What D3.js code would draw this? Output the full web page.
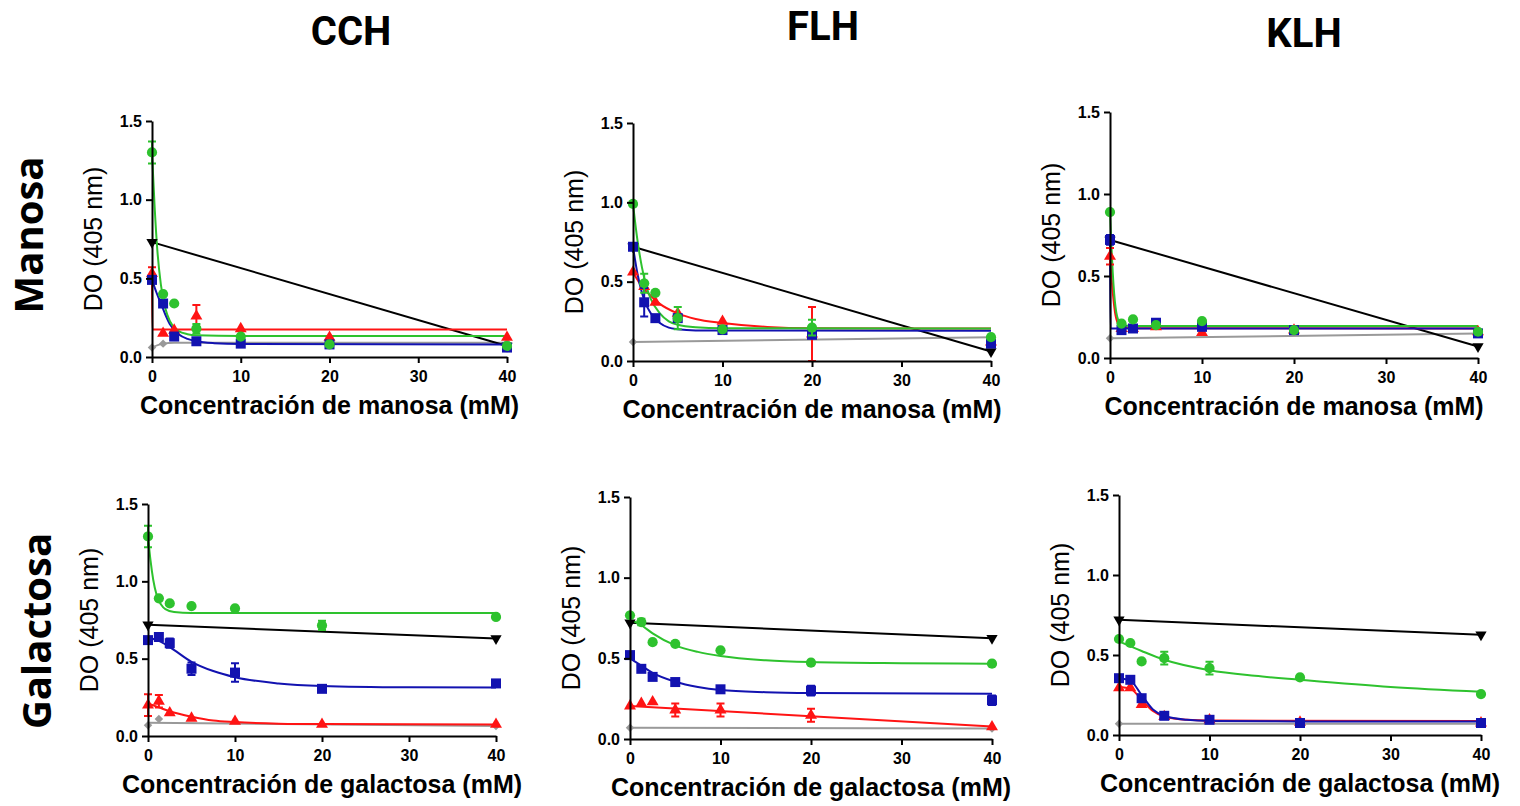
<!DOCTYPE html>
<html>
<head>
<meta charset="utf-8">
<script src="https://cdn.jsdelivr.net/npm/d3@7/dist/d3.min.js"></script>
<style>
	body { margin: 0; background: #fff; }
</style>
</head>
<body>
<svg id="chart" width="1520" height="806"></svg>
<script>
// shared values
var conc = [0, 1.25, 2.5, 5, 10, 20, 40];
var xTicks = [0, 10, 20, 30, 40];
var yTicks = [0, 0.5, 1.0, 1.5];
var lectins = ["CCH", "FLH", "KLH"];
var sugars = ["Manosa", "Galactosa"];
var xTitles = ["Concentración de manosa (mM)", "Concentración de galactosa (mM)"];
var yTitle = "DO (405 nm)";

// rows in every panel: green circle, blue square, red triangle, black triangle, gray diamond
// columns follow conc, null = no point
var cchManY = [
	[1.30, 0.40, 0.34, 0.18, 0.13, 0.08, 0.07],
	[0.49, 0.34, 0.13, 0.10, 0.085, 0.08, 0.06],
	[0.53, 0.15, 0.17, 0.26, 0.18, 0.125, 0.125],
	[0.73, null, null, null, null, null, 0.07],
	[0.06, 0.085, null, null, null, null, 0.09]
];
var cchManErr = [
	[0.07, 0, 0, 0.03, 0, 0, 0],
	[0, 0.02, 0, 0, 0, 0, 0],
	[0.04, 0, 0, 0.07, 0, 0, 0],
	[0, 0, 0, 0, 0, 0, 0],
	[0, 0, 0, 0, 0, 0, 0]
];
var cchManFit = [
	[[0, 1.30], [0.3, 0.95], [0.6, 0.68], [1, 0.46], [1.5, 0.31], [2, 0.23], [3, 0.165], [4, 0.145], [5, 0.138], [10, 0.133], [40, 0.133]],
	[[0, 0.49], [0.5, 0.41], [1, 0.34], [1.5, 0.27], [2, 0.21], [3, 0.145], [4, 0.115], [5, 0.10], [7, 0.088], [10, 0.083], [40, 0.08]],
	[[0, 0.53], [0.04, 0.175], [40, 0.175]],
	[[0, 0.73], [40, 0.07]],
	[[0, 0.06], [1.25, 0.085], [2.5, 0.09], [40, 0.09]]
];

var flhManY = [
	[0.99, 0.49, 0.43, 0.27, 0.20, 0.21, 0.15],
	[0.72, 0.37, 0.27, 0.27, 0.195, 0.165, 0.11],
	[0.56, 0.47, 0.37, 0.30, 0.25, 0.17, 0.12],
	[0.72, null, null, null, null, null, 0.06],
	[0.12, null, null, null, null, null, 0.15]
];
var flhManErr = [
	[0, 0.06, 0, 0.07, 0, 0.05, 0],
	[0, 0.09, 0, 0, 0, 0, 0],
	[0, 0, 0, 0, 0, 0.17, 0],
	[0, 0, 0, 0, 0, 0, 0],
	[0, 0, 0, 0, 0, 0, 0]
];
var flhManFit = [
	[[0, 0.99], [0.5, 0.76], [1, 0.59], [1.5, 0.47], [2, 0.39], [3, 0.30], [4, 0.25], [5, 0.228], [7, 0.212], [10, 0.206], [40, 0.205]],
	[[0, 0.72], [0.5, 0.55], [1, 0.43], [1.5, 0.35], [2, 0.30], [3, 0.24], [4, 0.21], [5, 0.20], [7, 0.193], [40, 0.19]],
	[[0, 0.56], [1, 0.47], [2, 0.41], [3, 0.36], [5, 0.30], [7, 0.265], [10, 0.24], [15, 0.215], [20, 0.207], [40, 0.205]],
	[[0, 0.72], [40, 0.06]],
	[[0, 0.12], [40, 0.15]]
];

var klhManY = [
	[0.89, 0.21, 0.235, 0.20, 0.225, 0.17, 0.16],
	[0.72, 0.17, 0.18, 0.215, 0.19, 0.17, 0.15],
	[0.62, 0.18, 0.18, 0.19, 0.155, 0.17, 0.16],
	[0.72, null, null, null, null, null, 0.07],
	[0.12, null, null, null, null, null, 0.15]
];
var klhManErr = [
	[0, 0, 0, 0, 0, 0, 0],
	[0.03, 0, 0, 0, 0, 0, 0],
	[0.05, 0, 0, 0, 0, 0, 0],
	[0, 0, 0, 0, 0, 0, 0],
	[0, 0, 0, 0, 0, 0, 0]
];
var klhManFit = [
	[[0, 0.89], [0.3, 0.52], [0.6, 0.31], [1, 0.22], [1.5, 0.20], [2.5, 0.195], [40, 0.195]],
	[[0, 0.72], [0.05, 0.18], [40, 0.18]],
	[[0, 0.62], [0.3, 0.40], [0.6, 0.26], [1, 0.20], [1.5, 0.186], [2.5, 0.182], [40, 0.18]],
	[[0, 0.72], [40, 0.07]],
	[[0, 0.12], [40, 0.15]]
];

var cchGalY = [
	[1.29, 0.89, 0.857, 0.84, 0.825, 0.715, 0.77],
	[0.62, 0.64, 0.60, 0.435, 0.41, 0.305, 0.34],
	[0.20, 0.225, 0.15, 0.115, 0.095, 0.075, 0.075],
	[0.72, null, null, null, null, null, 0.63],
	[0.07, 0.11, null, null, null, null, 0.065]
];
var cchGalErr = [
	[0.07, 0, 0, 0, 0, 0.03, 0],
	[0, 0, 0.03, 0.04, 0.06, 0, 0],
	[0.07, 0.04, 0, 0, 0, 0, 0],
	[0, 0, 0, 0, 0, 0, 0],
	[0, 0, 0, 0, 0, 0, 0]
];
var cchGalFit = [
	[[0, 1.29], [0.3, 1.13], [0.6, 1.01], [1, 0.91], [1.5, 0.85], [2, 0.82], [3, 0.802], [5, 0.796], [40, 0.795]],
	[[0, 0.635], [1.25, 0.615], [2.5, 0.575], [5, 0.48], [7.5, 0.42], [10, 0.38], [15, 0.34], [20, 0.324], [30, 0.315], [40, 0.313]],
	[[0, 0.21], [1.25, 0.185], [2.5, 0.16], [5, 0.125], [7.5, 0.10], [10, 0.09], [15, 0.08], [20, 0.077], [40, 0.075]],
	[[0, 0.72], [40, 0.63]],
	[[0, 0.085], [40, 0.065]]
];

var flhGalY = [
	[0.767, 0.725, 0.60, 0.59, 0.55, 0.473, 0.467],
	[0.52, 0.435, 0.385, 0.353, 0.308, 0.30, 0.24],
	[0.205, 0.22, 0.23, 0.18, 0.18, 0.147, 0.075],
	[0.72, null, null, null, null, null, 0.625],
	[0.07, null, null, null, null, null, 0.065]
];
var flhGalErr = [
	[0, 0.02, 0, 0, 0, 0, 0],
	[0, 0, 0, 0, 0.02, 0.03, 0.03],
	[0, 0, 0, 0.04, 0.04, 0.04, 0],
	[0, 0, 0, 0, 0, 0, 0],
	[0, 0, 0, 0, 0, 0, 0]
];
var flhGalFit = [
	[[0, 0.74], [1.25, 0.705], [2.5, 0.655], [5, 0.58], [7.5, 0.54], [10, 0.515], [15, 0.488], [20, 0.477], [30, 0.47], [40, 0.467]],
	[[0, 0.50], [1.25, 0.455], [2.5, 0.41], [5, 0.355], [7.5, 0.322], [10, 0.303], [15, 0.29], [20, 0.285], [40, 0.28]],
	[[0, 0.205], [40, 0.078]],
	[[0, 0.72], [40, 0.625]],
	[[0, 0.07], [40, 0.065]]
];

var klhGalY = [
	[0.60, 0.575, 0.46, 0.48, 0.418, 0.36, 0.256],
	[0.355, 0.345, 0.23, 0.12, 0.095, 0.075, 0.075],
	[0.295, 0.295, 0.19, 0.115, 0.095, 0.08, 0.075],
	[0.72, null, null, null, null, null, 0.626],
	[0.07, null, null, null, null, null, 0.07]
];
var klhGalErr = [
	[0, 0, 0, 0.04, 0.04, 0, 0],
	[0, 0.02, 0.02, 0, 0, 0, 0],
	[0, 0, 0, 0, 0, 0, 0],
	[0, 0, 0, 0, 0, 0, 0],
	[0, 0, 0, 0, 0, 0, 0]
];
var klhGalFit = [
	[[0, 0.585], [2.5, 0.525], [5, 0.47], [10, 0.405], [15, 0.37], [20, 0.345], [30, 0.30], [40, 0.27]],
	[[0, 0.355], [1.25, 0.34], [2.5, 0.25], [3.75, 0.16], [5, 0.12], [7.5, 0.095], [10, 0.088], [20, 0.085], [40, 0.085]],
	[[0, 0.30], [1.25, 0.29], [2.5, 0.22], [3.75, 0.15], [5, 0.115], [7.5, 0.095], [10, 0.09], [40, 0.088]],
	[[0, 0.72], [40, 0.626]],
	[[0, 0.07], [40, 0.07]]
];

var panelY = [cchManY, flhManY, klhManY, cchGalY, flhGalY, klhGalY];
var panelErr = [cchManErr, flhManErr, klhManErr, cchGalErr, flhGalErr, klhGalErr];
var panelFit = [cchManFit, flhManFit, klhManFit, cchGalFit, flhGalFit, klhGalFit];

// plot boxes (pixels)
var boxes = [
	{x0: 152, x1: 507, y0: 357, y1: 121},
	{x0: 633, x1: 991, y0: 361, y1: 123},
	{x0: 1110, x1: 1478, y0: 358, y1: 112},
	{x0: 148, x1: 496, y0: 736, y1: 504},
	{x0: 630, x1: 992, y0: 739, y1: 497},
	{x0: 1119, x1: 1481, y0: 735, y1: 495}
];

var styles = [
	{color: '#2ec22e', symbol: d3.symbolCircle, size: 82, rot: 0},
	{color: '#1212b0', symbol: d3.symbolSquare, size: 100, rot: 0},
	{color: '#ff1414', symbol: d3.symbolTriangle, size: 62, rot: 0},
	{color: '#000000', symbol: d3.symbolTriangle, size: 55, rot: 180},
	{color: '#999999', symbol: d3.symbolSquare, size: 36, rot: 45}
];
var drawOrder = [4, 3, 2, 1, 0];

var svg = d3.select('#chart');

// column titles
var titlePos = [[351, 45], [823, 40], [1304, 47]];
lectins.forEach(function(t, i){
	svg.append('text')
		.attr('x', titlePos[i][0])
		.attr('y', titlePos[i][1])
		.attr('text-anchor', 'middle')
		.style('font-family', 'Roboto, sans-serif')
		.style('font-weight', 'bold')
		.style('font-size', '40px')
		.text(t);
});

// row titles
var rowPos = [[43, 235], [51, 631]];
sugars.forEach(function(t, i){
	svg.append('text')
		.attr('transform', 'translate(' + rowPos[i][0] + ',' + rowPos[i][1] + ') rotate(-90)')
		.attr('text-anchor', 'middle')
		.style('font-family', '"Open Sans", sans-serif')
		.style('font-weight', 'bold')
		.style('font-size', '40px')
		.text(t);
});

var drawPanel = function(i){
	var b = boxes[i];
	var ys = panelY[i], errs = panelErr[i], fits = panelFit[i];

	var xScale = d3.scaleLinear().domain([0, 40]).range([b.x0, b.x1]);
	var yScale = d3.scaleLinear().domain([0, 1.5]).range([b.y0, b.y1]);

	var g = svg.append('g');

	var line = d3.line()
				.x(d => xScale(d[0]))
				.y(d => yScale(d[1]))
				.curve(d3.curveMonotoneX);

	drawOrder.forEach(function(s){
		g.append('path')
			.attr('d', line(fits[s]))
			.attr('fill', 'none')
			.attr('stroke', styles[s].color)
			.attr('stroke-width', 2);
	});

	drawOrder.forEach(function(s){
		var st = styles[s];
		var pts = conc.map((c, k) => ({x: c, y: ys[s][k], e: errs[s][k]}))
					.filter(d => d.y !== null);

		pts.filter(d => d.e > 0).forEach(function(d){
			var px = xScale(d.x), top = yScale(d.y + d.e), bot = yScale(d.y - d.e);
			g.append('path')
				.attr('d', 'M' + px + ',' + top + 'V' + bot +
					'M' + (px - 4) + ',' + top + 'H' + (px + 4) +
					'M' + (px - 4) + ',' + bot + 'H' + (px + 4))
				.attr('stroke', st.color)
				.attr('stroke-width', 2)
				.attr('fill', 'none');
		});

		g.selectAll('.pt' + s)
			.data(pts)
			.enter()
			.append('path')
			.attr('transform', d => 'translate(' + xScale(d.x) + ',' + yScale(d.y) + ') rotate(' + st.rot + ')')
			.attr('d', d3.symbol().type(st.symbol).size(st.size))
			.attr('fill', st.color);
	});

	var xAxis = d3.axisBottom(xScale).tickValues(xTicks).tickSize(6).tickSizeOuter(0).tickPadding(8);
	var yAxis = d3.axisLeft(yScale).tickValues(yTicks).tickSize(6).tickSizeOuter(0).tickPadding(4).tickFormat(d3.format('.1f'));

	var ax = g.append('g')
		.attr('transform', 'translate(0,' + b.y0 + ')')
		.call(xAxis);
	var ay = g.append('g')
		.attr('transform', 'translate(' + b.x0 + ',0)')
		.call(yAxis);

	[ax, ay].forEach(function(a){
		a.selectAll('path, line').attr('stroke', '#000').attr('stroke-width', 2);
		a.selectAll('text')
			.attr('fill', '#000')
			.style('font-family', '"Liberation Sans", Arial, sans-serif')
			.style('font-weight', 'bold')
			.style('font-size', '16px');
	});

	g.append('text')
		.attr('x', (b.x0 + b.x1) / 2)
		.attr('y', b.y0 + 57)
		.attr('text-anchor', 'middle')
		.style('font-family', '"Liberation Sans", Arial, sans-serif')
		.style('font-weight', 'bold')
		.style('font-size', '25px')
		.text(xTitles[i < 3 ? 0 : 1]);

	g.append('text')
		.attr('transform', 'translate(' + (b.x0 - 50) + ',' + ((b.y0 + b.y1) / 2) + ') rotate(-90)')
		.attr('text-anchor', 'middle')
		.style('font-family', '"Liberation Sans", Arial, sans-serif')
		.style('font-size', '25px')
		.text(yTitle);
}

for (var i = 0; i < 6; i++) drawPanel(i);
</script>
</body>
</html>
